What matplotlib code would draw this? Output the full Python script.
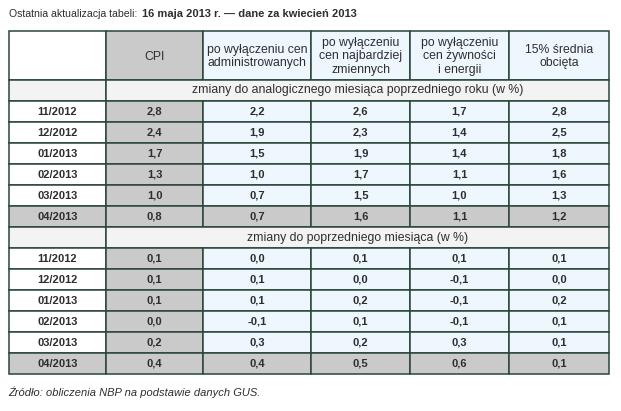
import matplotlib.pyplot as plt
from matplotlib.patches import Rectangle

plt.rcParams['font.family'] = ['Liberation Sans', 'DejaVu Sans']

# table contents
headers = ["", "CPI", "po wyłączeniu cen\nadministrowanych",
           "po wyłączeniu\ncen najbardziej\nzmiennych",
           "po wyłączeniu\ncen żywności\ni energii",
           "15% średnia\nobcięta"]
months = ["11/2012", "12/2012", "01/2013", "02/2013", "03/2013", "04/2013"]
section_titles = ["zmiany do analogicznego miesiąca poprzedniego roku (w %)",
                  "zmiany do poprzedniego miesiąca (w %)"]
yoy = [
    ["2,8", "2,2", "2,6", "1,7", "2,8"],
    ["2,4", "1,9", "2,3", "1,4", "2,5"],
    ["1,7", "1,5", "1,9", "1,4", "1,8"],
    ["1,3", "1,0", "1,7", "1,1", "1,6"],
    ["1,0", "0,7", "1,5", "1,0", "1,3"],
    ["0,8", "0,7", "1,6", "1,1", "1,2"],
]
mom = [
    ["0,1", "0,0", "0,1", "0,1", "0,1"],
    ["0,1", "0,1", "0,0", "-0,1", "0,0"],
    ["0,1", "0,1", "0,2", "-0,1", "0,2"],
    ["0,0", "-0,1", "0,1", "-0,1", "0,1"],
    ["0,2", "0,3", "0,2", "0,3", "0,1"],
    ["0,4", "0,4", "0,5", "0,6", "0,1"],
]

col_x = [9, 106, 203, 311, 410, 509, 609]
header_top, header_bot = 31, 80
row_h = 21

grey = "#cacaca"
blue = "#eef6fe"
sect = "#f3f3f3"
border = "#2a4638"
txt = "#2e2e2e"

fig = plt.figure(figsize=(6.21, 4.11), dpi=100)
ax = fig.add_axes([0, 0, 1, 1])
ax.set_xlim(0, 621)
ax.set_ylim(411, 0)
ax.axis("off")


def cell(x0, x1, y0, y1, color):
    ax.add_patch(Rectangle((x0, y0), x1 - x0, y1 - y0, facecolor=color,
                           edgecolor=border, linewidth=1.1))


ax.text(9, 14, "Ostatnia aktualizacja tabeli:", fontsize=7.6, color=txt,
        va="center", ha="left")
ax.text(142, 14, "16 maja 2013 r. — dane za kwiecień 2013", fontsize=8,
        color=txt, va="center", ha="left", fontweight="bold")

# header row
for i, h in enumerate(headers):
    color = "white" if i == 0 else (grey if i == 1 else blue)
    cell(col_x[i], col_x[i + 1], header_top, header_bot, color)
    ax.text((col_x[i] + col_x[i + 1]) / 2, (header_top + header_bot) / 2 + 1,
            h, fontsize=8.8, color=txt, ha="center", va="center",
            linespacing=1.17)

y = header_bot
for title, block in zip(section_titles, [yoy, mom]):
    cell(col_x[0], col_x[1], y, y + row_h, sect)
    cell(col_x[1], col_x[-1], y, y + row_h, sect)
    ax.text((col_x[1] + col_x[-1]) / 2, y + row_h / 2, title, fontsize=8.8,
            color=txt, ha="center", va="center")
    y += row_h
    for r, (m, vals) in enumerate(zip(months, block)):
        last = r == len(months) - 1
        row = [m] + vals
        for i, v in enumerate(row):
            if last or i == 1:
                color = grey
            elif i == 0:
                color = "white"
            else:
                color = blue
            cell(col_x[i], col_x[i + 1], y, y + row_h, color)
            ax.text((col_x[i] + col_x[i + 1]) / 2, y + row_h / 2, v,
                    fontsize=8, color=txt, ha="center", va="center",
                    fontweight="bold")
        y += row_h

ax.text(8, 392, "Źródło: obliczenia NBP na podstawie danych GUS.", fontsize=8,
        color=txt, ha="left", va="center", style="italic")

fig.savefig("out.png", dpi=100)
